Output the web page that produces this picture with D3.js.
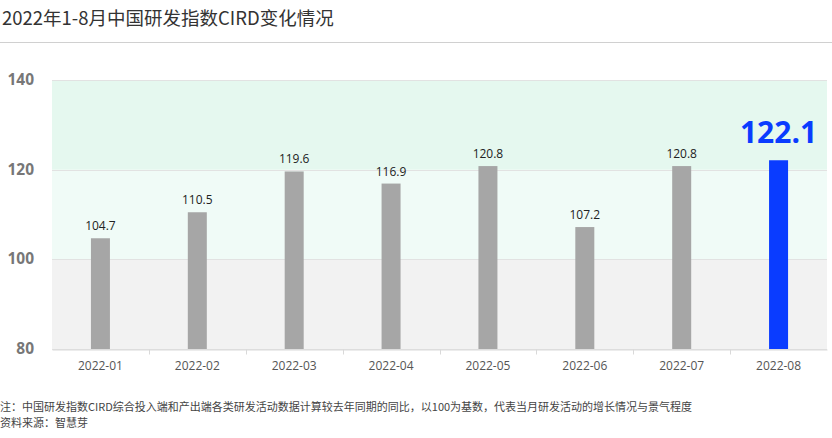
<!DOCTYPE html>
<html>
<head>
<meta charset="utf-8">
<script src="https://cdn.jsdelivr.net/npm/d3@7"></script>
<style>
body { margin: 0; background: #fff; font-family: "Noto Sans CJK SC", "Noto Sans", sans-serif; }
svg { display: block; }
</style>
</head>
<body>
<div id="chart"></div>
<script>
const months = ['2022-01', '2022-02', '2022-03', '2022-04', '2022-05', '2022-06', '2022-07', '2022-08']
const values = [104.7, 110.5, 119.6, 116.9, 120.8, 107.2, 120.8, 122.1]
const yTicks = [80, 100, 120, 140]
const bands = [
	{from: 80, to: 100, color: '#f2f2f2'},
	{from: 100, to: 120, color: '#f0fbf7'},
	{from: 120, to: 140, color: '#e5f8ef'}
]
const title = '2022年1-8月中国研发指数CIRD变化情况'
const notes = [
	'注：中国研发指数CIRD综合投入端和产出端各类研发活动数据计算较去年同期的同比，以100为基数，代表当月研发活动的增长情况与景气程度',
	'资料来源：智慧芽'
]

const width = 832
const height = 438
const margin = {left: 52, top: 80, right: 5, bottom: 89}

const svg = d3.select('#chart')
.append('svg')
.attr('width', width)
.attr('height', height)

svg.append('text')
.attr('x', 2)
.attr('y', 25)
.attr('font-size', 18.5)
.attr('fill', '#333')
.text(title)

svg.append('line')
.attr('x1', 0).attr('x2', width)
.attr('y1', 42.5).attr('y2', 42.5)
.attr('stroke', '#d0d0d0')

const xScale = d3.scaleBand()
.domain(months)
.range([margin.left, width - margin.right])

const yScale = d3.scaleLinear()
.domain([80, 140])
.range([height - margin.bottom, margin.top])

// background bands
svg.selectAll('rect.band')
.data(bands)
.enter()
.append('rect')
.attr('class', 'band')
.attr('x', margin.left)
.attr('width', width - margin.right - margin.left)
.attr('y', d => yScale(d.to))
.attr('height', d => yScale(d.from) - yScale(d.to))
.attr('fill', d => d.color)

// grid lines
svg.selectAll('line.grid')
.data(yTicks)
.enter()
.append('line')
.attr('class', 'grid')
.attr('x1', margin.left)
.attr('x2', width - margin.right)
.attr('y1', d => Math.round(yScale(d)) + 0.5)
.attr('y2', d => Math.round(yScale(d)) + 0.5)
.attr('stroke', '#e2e2e2')

// y axis labels
svg.selectAll('text.ylab')
.data(yTicks)
.enter()
.append('text')
.attr('class', 'ylab')
.attr('x', 34)
.attr('y', d => yScale(d) + 5)
.attr('text-anchor', 'end')
.attr('font-size', 15.5)
.attr('font-weight', 'bold')
.attr('font-family', '"Open Sans", sans-serif')
.attr('fill', '#777')
.text(d => d)

// x axis
const xAxis = svg.append('g')
.attr('transform', `translate(0,${Math.round(yScale(80)) + 0.5})`)
.call(d3.axisBottom(xScale).tickSize(0).tickPadding(12))

xAxis.select('.domain').attr('stroke', '#d9d9d9')
xAxis.selectAll('text')
.attr('font-size', 12)
.attr('font-family', '"Open Sans", sans-serif')
.attr('fill', '#555')

xAxis.selectAll('line.sep')
.data(months.slice(1))
.enter()
.append('line')
.attr('class', 'sep')
.attr('x1', d => Math.round(xScale(d)) + 0.5)
.attr('x2', d => Math.round(xScale(d)) + 0.5)
.attr('y1', 0)
.attr('y2', 5)
.attr('stroke', '#d9d9d9')

const barW = 19
const last = months.length - 1

svg.selectAll('rect.bar')
.data(values)
.enter()
.append('rect')
.attr('class', 'bar')
.attr('x', (d, i) => xScale(months[i]) + xScale.bandwidth() / 2 - barW / 2)
.attr('width', barW)
.attr('y', d => yScale(d))
.attr('height', d => yScale(80) - yScale(d))
.attr('fill', (d, i) => i == last ? '#0a3cff' : '#a6a6a6')

svg.selectAll('text.val')
.data(values)
.enter()
.append('text')
.attr('class', 'val')
.attr('x', (d, i) => xScale(months[i]) + xScale.bandwidth() / 2)
.attr('y', (d, i) => yScale(d) - (i == last ? 17 : 8))
.attr('text-anchor', 'middle')
.attr('font-family', '"Open Sans", sans-serif')
.attr('font-size', (d, i) => i == last ? 30 : 12)
.attr('font-weight', (d, i) => i == last ? 'bold' : 'normal')
.attr('fill', (d, i) => i == last ? '#0a3cff' : '#222')
.text(d => d.toFixed(1))

svg.selectAll('text.note')
.data(notes)
.enter()
.append('text')
.attr('class', 'note')
.attr('x', 0)
.attr('y', (d, i) => 411 + i * 16)
.attr('font-size', 11)
.attr('fill', '#444')
.text(d => d)
</script>
</body>
</html>
